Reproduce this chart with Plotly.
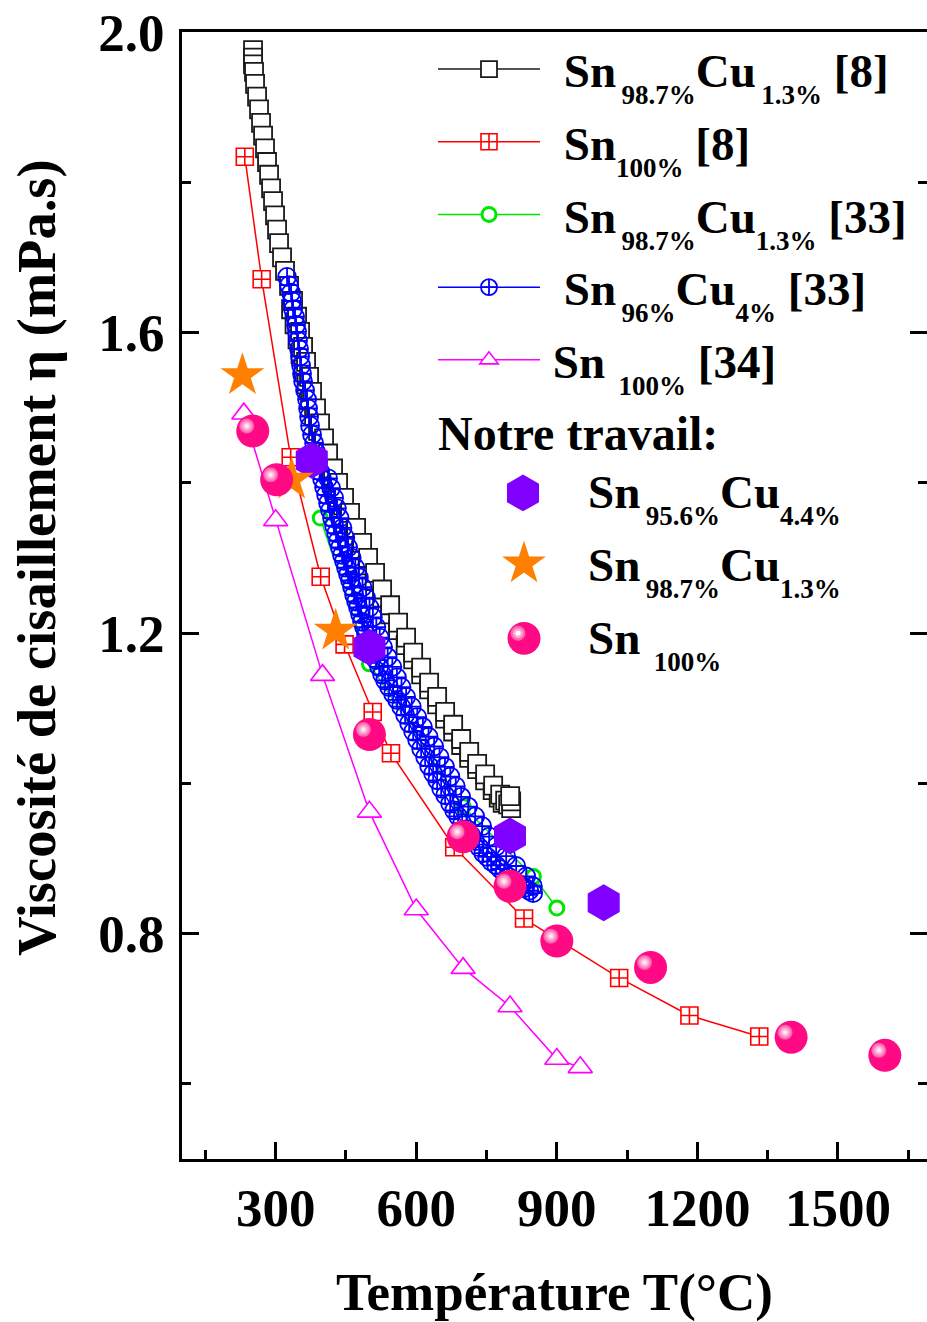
import math
import plotly.graph_objects as go

# ---------------- data ----------------
# Sn98.7%Cu1.3% [8]  (black open squares) - main chain
T_SnCu13_ref8 = [251.6, 251.6, 251.6, 253.7, 255.9, 260.2, 264.4, 268.7, 273.0, 277.2,
                 281.5, 285.8, 290.1, 294.3, 298.6, 302.9, 307.1, 313.5, 319.9, 328.5,
                 337.0, 345.6, 352.0, 358.4, 364.8, 371.2, 377.6, 386.1, 394.7, 403.2,
                 411.8, 422.4, 433.1, 445.9, 458.7, 471.6, 484.4, 497.2, 512.1, 527.1,
                 544.2, 561.2, 578.3, 593.3, 610.4, 627.4, 644.5, 661.6, 678.7, 695.8,
                 712.9, 729.9, 747.0, 764.1, 779.1, 789.7, 796.1, 802.5, 802.5, 800.4]
eta_SnCu13_ref8 = [1.976, 1.966, 1.957, 1.947, 1.931, 1.914, 1.897, 1.879, 1.862, 1.845,
                   1.827, 1.810, 1.792, 1.775, 1.756, 1.737, 1.719, 1.700, 1.682, 1.662,
                   1.642, 1.621, 1.601, 1.581, 1.561, 1.541, 1.521, 1.499, 1.479, 1.459,
                   1.439, 1.419, 1.400, 1.380, 1.360, 1.340, 1.320, 1.300, 1.280, 1.258,
                   1.237, 1.214, 1.194, 1.174, 1.154, 1.134, 1.115, 1.095, 1.078, 1.059,
                   1.042, 1.026, 1.012, 0.997, 0.985, 0.977, 0.972, 0.967, 0.976, 0.983]
# same series, interleaved second row of squares
T_SnCu13_ref8_b = [332.8, 340.2, 346.6, 353.0, 359.4, 365.9, 373.3, 381.9, 390.4, 399.0,
                   408.6, 419.2, 431.0, 443.8, 456.6, 469.4, 482.2, 496.1, 511.1, 527.1,
                   544.2, 561.2, 577.3, 593.3, 610.4, 627.4, 644.5, 661.6, 678.7, 695.8,
                   712.9, 729.9, 747.0, 763.0, 775.9, 784.4]
eta_SnCu13_ref8_b = [1.631, 1.611, 1.591, 1.571, 1.551, 1.531, 1.510, 1.489, 1.469, 1.449,
                     1.429, 1.410, 1.390, 1.370, 1.350, 1.330, 1.310, 1.290, 1.269, 1.247,
                     1.225, 1.204, 1.184, 1.165, 1.145, 1.125, 1.105, 1.086, 1.069, 1.051,
                     1.034, 1.019, 1.004, 0.991, 0.981, 0.974]

# Sn100% [8]  (red squares with cross)
T_Sn_ref8 = [234, 270, 332, 396, 447, 507, 546, 681, 830, 1033, 1183, 1332]
eta_Sn_ref8 = [1.834, 1.671, 1.434, 1.275, 1.185, 1.095, 1.040, 0.915, 0.820, 0.741, 0.691, 0.663]

# Sn98.7%Cu1.3% [33]  (green open circles)
T_SnCu13_ref33 = [395, 500, 700, 850, 900]
eta_SnCu13_ref33 = [1.353, 1.159, 0.969, 0.876, 0.834]

# Sn96%Cu4% [33]  (blue circles with cross) - left row of the band
T_SnCu4_ref33 = [324.2, 328.5, 332.8, 334.9, 337.0, 341.3, 343.4, 345.6, 347.7, 349.8,
                 352.0, 354.1, 356.2, 358.4, 362.7, 366.9, 369.1, 371.2, 373.3, 377.6,
                 381.9, 386.1, 390.4, 394.7, 399.0, 403.2, 407.5, 411.8, 416.0, 420.3,
                 424.6, 428.9, 433.1, 437.4, 441.7, 445.9, 450.2, 454.5, 458.7, 463.0,
                 467.3, 471.6, 475.8, 480.1, 484.4, 488.6, 492.9, 497.2, 501.5, 507.9,
                 514.3, 520.7, 527.1, 533.5, 542.0, 550.6, 559.1, 567.7, 576.2, 584.7,
                 593.3, 601.8, 610.4, 618.9, 627.4, 636.0, 644.5, 653.1, 661.6, 672.3,
                 680.8, 689.4, 697.9, 708.6, 717.1, 725.7, 734.2, 742.8, 751.3, 759.8,
                 770.5, 779.1, 787.6, 796.1, 806.8, 815.4, 823.9, 832.4, 841.0, 849.5]
eta_SnCu4_ref33 = [1.674, 1.663, 1.653, 1.642, 1.631, 1.621, 1.610, 1.601, 1.589, 1.578,
                   1.568, 1.556, 1.545, 1.535, 1.523, 1.511, 1.499, 1.488, 1.476, 1.464,
                   1.453, 1.441, 1.427, 1.415, 1.405, 1.394, 1.384, 1.373, 1.363, 1.353,
                   1.343, 1.333, 1.323, 1.314, 1.304, 1.296, 1.287, 1.278, 1.270, 1.261,
                   1.251, 1.242, 1.234, 1.225, 1.215, 1.208, 1.198, 1.190, 1.181, 1.172,
                   1.164, 1.155, 1.145, 1.137, 1.128, 1.119, 1.111, 1.102, 1.091, 1.080,
                   1.069, 1.058, 1.046, 1.035, 1.023, 1.013, 1.004, 0.993, 0.984, 0.973,
                   0.964, 0.956, 0.947, 0.939, 0.931, 0.923, 0.915, 0.907, 0.902, 0.896,
                   0.891, 0.886, 0.880, 0.876, 0.871, 0.867, 0.863, 0.861, 0.857, 0.854]
# same series, right row of the band
T_SnCu4_ref33_b = [411.8, 418.2, 424.6, 430.6, 436.5, 442.5, 448.5, 454.5, 462.2, 469.9,
                   477.5, 485.2, 492.9, 500.2, 507.4, 514.7, 522.0, 529.2, 539.0, 548.9,
                   558.7, 568.5, 578.3, 590.3, 602.2, 614.2, 626.2, 638.1, 649.7, 661.2,
                   672.7, 684.3, 695.8, 710.7, 725.7, 740.6, 755.6, 770.5, 791.9, 813.2,
                   834.6, 848.9]
eta_SnCu4_ref33_b = [1.406, 1.393, 1.380, 1.366, 1.353, 1.340, 1.327, 1.314, 1.300, 1.287,
                     1.274, 1.261, 1.247, 1.234, 1.221, 1.208, 1.194, 1.181, 1.168, 1.155,
                     1.141, 1.128, 1.115, 1.102, 1.088, 1.075, 1.062, 1.049, 1.035, 1.022,
                     1.009, 0.996, 0.982, 0.969, 0.956, 0.943, 0.929, 0.916, 0.903, 0.890,
                     0.876, 0.863]

# Sn100% [34]  (magenta open triangles)
T_Sn_ref34 = [232, 300, 400, 500, 600, 700, 800, 900, 950]
eta_Sn_ref34 = [1.492, 1.350, 1.144, 0.962, 0.832, 0.754, 0.703, 0.633, 0.622]

# Notre travail
T_SnCu44_ours = [377, 500, 800, 1000]
eta_SnCu44_ours = [1.430, 1.181, 0.930, 0.841]
T_SnCu13_ours = [229, 334, 428]
eta_SnCu13_ours = [1.543, 1.404, 1.203]
T_Sn_ours = [251, 302, 500, 700, 800, 900, 1100, 1400, 1600]
eta_Sn_ours = [1.469, 1.404, 1.065, 0.929, 0.863, 0.790, 0.755, 0.662, 0.638]

x_ticks = [300, 600, 900, 1200, 1500]
y_ticks = [0.8, 1.2, 1.6, 2.0]

# ---------------- layout geometry ----------------
W, H = 927, 1322
ML, MR, MT, MB = 182, 0, 32, 158
PW, PH = W - ML - MR, H - MT - MB
X_RANGE = [100, 1690]
Y_RANGE = [0.5, 2.0]
FONT = "Liberation Serif, Times New Roman, serif"

PINK = "#ff0a84"
VIOLET = "#7f00ff"
ORANGE = "#ff8000"
BLACK = "#1a1a1a"
BLUE = "#0000ff"
GREEN = "#00e600"


def pxx(px):
    return (px - ML) / PW


def pxy(py):
    return 1 - (py - MT) / PH


def sub(txt, lead=""):
    return ("<span style='font-size:27px;baseline-shift:-17px'>" + lead + txt + "</span>")


PFX = "\u2009\u2009"

fig = go.Figure()

# ---- literature series ----
fig.add_trace(go.Scatter(
    x=T_SnCu13_ref8_b, y=eta_SnCu13_ref8_b, mode="markers", showlegend=False,
    legendgroup="g1", hoverinfo="skip",
    marker=dict(symbol="square", size=18, color="white",
                line=dict(color=BLACK, width=1.8))))
fig.add_trace(go.Scatter(
    x=T_SnCu13_ref8, y=eta_SnCu13_ref8, mode="lines+markers",
    name=PFX + "Sn" + sub("98.7%", "\u2009") + "Cu" + sub("1.3%", "\u2009") + " [8]",
    line=dict(color=BLACK, width=1.5),
    marker=dict(symbol="square", size=18, color="white",
                line=dict(color=BLACK, width=1.8)),
    legend="legend", legendrank=1, legendgroup="g1"))

fig.add_trace(go.Scatter(
    x=T_Sn_ref8, y=eta_Sn_ref8, mode="lines+markers",
    name=PFX + "Sn" + sub("100%") + " [8]",
    line=dict(color="red", width=1.5),
    marker=dict(symbol="square-cross", size=17, color="white",
                line=dict(color="red", width=1.6)),
    legend="legend", legendrank=2, legendgroup="g2"))

fig.add_trace(go.Scatter(
    x=T_Sn_ref34, y=eta_Sn_ref34, mode="lines+markers",
    name="\u2006Sn" + sub("100%", "\u2002") + " [34]",
    line=dict(color="#ff00ff", width=1.5),
    marker=dict(symbol="triangle-up", size=21, color="white",
                line=dict(color="#ff00ff", width=1.6)),
    legend="legend", legendrank=5, legendgroup="g5"))

fig.add_trace(go.Scatter(
    x=T_SnCu13_ref33, y=eta_SnCu13_ref33, mode="lines+markers",
    name=PFX + "Sn" + sub("98.7%", "\u2009") + "Cu" + sub("1.3%") + " [33]",
    line=dict(color=GREEN, width=1.5),
    marker=dict(symbol="circle", size=14, color="white",
                line=dict(color=GREEN, width=3)),
    legend="legend", legendrank=3, legendgroup="g3"))

fig.add_trace(go.Scatter(
    x=T_SnCu4_ref33, y=eta_SnCu4_ref33, mode="lines+markers",
    name=PFX + "Sn" + sub("96%", "\u2009") + "Cu" + sub("4%") + " [33]",
    line=dict(color=BLUE, width=1.5),
    marker=dict(symbol="circle-cross-open", size=18, color=BLUE,
                line=dict(color=BLUE, width=1.8)),
    legend="legend", legendrank=4, legendgroup="g4"))
fig.add_trace(go.Scatter(
    x=T_SnCu4_ref33_b, y=eta_SnCu4_ref33_b, mode="markers", showlegend=False,
    legendgroup="g4", hoverinfo="skip",
    marker=dict(symbol="circle-cross-open", size=18, color=BLUE,
                line=dict(color=BLUE, width=1.8))))

# ---- our work ----
fig.add_trace(go.Scatter(
    x=T_SnCu44_ours, y=eta_SnCu44_ours, mode="markers",
    name="Sn95.6%Cu4.4% (notre travail)", showlegend=False,
    marker=dict(symbol="hexagon", size=37, color=VIOLET, line=dict(width=0))))

fig.add_trace(go.Scatter(
    x=T_SnCu13_ours, y=eta_SnCu13_ours, mode="markers",
    name="Sn98.7%Cu1.3% (notre travail)", showlegend=False,
    marker=dict(symbol="star", size=33, color=ORANGE, line=dict(width=0))))

fig.add_trace(go.Scatter(
    x=T_Sn_ours, y=eta_Sn_ours, mode="markers",
    name="Sn100% (notre travail)", showlegend=False,
    marker=dict(symbol="circle", size=33, color=PINK, line=dict(width=0))))

# sphere highlights: same data, drawn on a twin axis pair shifted a few px up-left
HX, HY = 6, 5
sx = (X_RANGE[1] - X_RANGE[0]) / PW
sy = (Y_RANGE[1] - Y_RANGE[0]) / PH
fig.add_trace(go.Scatter(
    x=T_Sn_ours, y=eta_Sn_ours, mode="markers", xaxis="x2", yaxis="y2",
    showlegend=False, hoverinfo="skip",
    marker=dict(symbol="circle", size=15, color="#ff4fa7",
                gradient=dict(type="radial", color="white"), line=dict(width=0))))

# right-hand ticks
fig.add_trace(go.Scatter(x=[None], y=[None], yaxis="y3", showlegend=False,
                         hoverinfo="skip"))

tickcommon = dict(ticks="inside", ticklen=17, tickwidth=3, tickcolor="black",
                  showgrid=False, zeroline=False)

fig.update_layout(
    width=W, height=H,
    margin=dict(l=ML, r=MR, t=MT, b=MB, pad=0),
    paper_bgcolor="white", plot_bgcolor="rgba(0,0,0,0)",
    font=dict(family=FONT, size=47, color="black", weight="bold"),
    showlegend=True,
    xaxis=dict(range=X_RANGE, tickmode="array", tickvals=x_ticks,
               showline=True, linewidth=3, linecolor="black", mirror=True,
               minor=dict(dtick=150, tick0=0, ticks="inside", ticklen=9,
                          tickwidth=3, tickcolor="black"),
               tickfont=dict(size=53), ticklabelstandoff=0,
               title=dict(text="Température T(°C)", font=dict(size=53), standoff=48),
               **tickcommon),
    yaxis=dict(range=Y_RANGE, tickmode="array", tickvals=y_ticks, tickformat=".1f",
               showline=True, linewidth=3, linecolor="black", mirror=False,
               minor=dict(dtick=0.2, tick0=0, ticks="inside", ticklen=9,
                          tickwidth=3, tickcolor="black"),
               tickfont=dict(size=53), ticklabelstandoff=4,
               **tickcommon),
    yaxis3=dict(range=Y_RANGE, overlaying="y", side="right", anchor="x",
                tickmode="array", tickvals=y_ticks, showticklabels=False,
                showline=False,
                minor=dict(dtick=0.2, tick0=0, ticks="inside", ticklen=9,
                           tickwidth=3, tickcolor="black"),
                **tickcommon),
    xaxis2=dict(domain=[0, 1 - HX / PW], range=[X_RANGE[0] + HX * sx, X_RANGE[1]],
                anchor="y2", visible=False),
    yaxis2=dict(domain=[HY / PH, 1], range=[Y_RANGE[0], Y_RANGE[1] - HY * sy],
                anchor="x2", visible=False),
    legend=dict(x=pxx(433), y=1, xanchor="left", yanchor="top",
                bgcolor="rgba(0,0,0,0)", borderwidth=0, itemwidth=102,
                tracegroupgap=8.6, font=dict(size=47, family=FONT, weight="bold"),
                itemclick=False, itemdoubleclick=False),
)

# ---- y axis title and the "Notre travail" key (shapes + text) ----
shapes = []
annos = []

annos.append(dict(text="Viscosité de cisaillement η (mPa.s)", textangle=-90,
                  xref="paper", yref="paper", x=pxx(37), y=pxy(560),
                  xanchor="center", yanchor="middle", showarrow=False,
                  font=dict(size=54.5, family=FONT, weight="bold")))


def hexagon_path(cx, cy, r):
    hw = r * math.sqrt(3) / 2
    pts = [(0, -r), (hw, -r / 2), (hw, r / 2), (0, r), (-hw, r / 2), (-hw, -r / 2)]
    return "M" + " L".join(f"{pxx(cx + a):.5f},{pxy(cy + b):.5f}" for a, b in pts) + " Z"


def star_path(cx, cy, R):
    pts = []
    for k in range(10):
        ang = math.radians(-90 + 36 * k)
        rr = R if k % 2 == 0 else R * 0.382
        pts.append((rr * math.cos(ang), rr * math.sin(ang)))
    return "M" + " L".join(f"{pxx(cx + a):.5f},{pxy(cy + b):.5f}" for a, b in pts) + " Z"


def circle(cx, cy, r, color):
    return dict(type="circle", xref="paper", yref="paper",
                x0=pxx(cx - r), x1=pxx(cx + r), y0=pxy(cy + r), y1=pxy(cy - r),
                fillcolor=color, line=dict(width=0), layer="above")


shapes.append(dict(type="path", xref="paper", yref="paper", path=hexagon_path(523, 495, 18.5),
                   fillcolor=VIOLET, line=dict(width=0), layer="above"))
shapes.append(dict(type="path", xref="paper", yref="paper", path=star_path(524, 566, 23),
                   fillcolor=ORANGE, line=dict(width=0), layer="above"))
shapes.append(circle(524, 641, 16.5, PINK))
shapes.append(circle(518, 636, 7.5, "#ff66b3"))
shapes.append(circle(518, 636, 5, "#ffaad4"))
shapes.append(circle(518, 636, 2.5, "#ffffff"))

annos.append(dict(text="Notre travail:", xref="paper", yref="paper",
                  x=pxx(436), y=pxy(435), xanchor="left", yanchor="middle",
                  showarrow=False, font=dict(size=48, family=FONT, weight="bold")))
key_rows = [
    ("Sn" + sub("95.6%", "\u2009") + "Cu" + sub("4.4%"), 493),
    ("Sn" + sub("98.7%", "\u2009") + "Cu" + sub("1.3%"), 566),
    ("Sn" + sub("100%", "\u2002"), 639),
]
for txt, yc in key_rows:
    annos.append(dict(text=txt, xref="paper", yref="paper", x=pxx(586), y=pxy(yc + 8),
                      xanchor="left", yanchor="middle", showarrow=False,
                      font=dict(size=47, family=FONT, weight="bold")))

fig.update_layout(shapes=shapes, annotations=annos)

fig.write_html("out.html", config={"displayModeBar": False},
               post_script="document.body.style.margin='0px';"
                           "document.body.style.overflow='hidden';")
